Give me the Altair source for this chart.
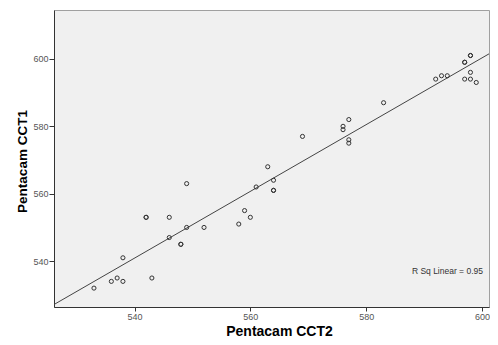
import altair as alt
import pandas as pd

# Pentacam CCT2 (x) and Pentacam CCT1 (y)
cct2 = [563, 549, 564, 561, 564, 564, 542, 542, 546, 559, 560, 558, 549, 552,
        546, 548, 548, 538, 543, 537, 536, 538, 533,
        598, 598, 597, 597, 598, 597, 598, 599, 592, 593, 594, 583,
        577, 576, 576, 577, 577, 569]
cct1 = [568, 563, 564, 562, 561, 561, 553, 553, 553, 555, 553, 551, 550, 550,
        547, 545, 545, 541, 535, 535, 534, 534, 532,
        601, 601, 599, 599, 596, 594, 594, 593, 594, 595, 595, 587,
        582, 580, 579, 576, 575, 577]

x_ticks = [540, 560, 580, 600]
y_ticks = [540, 560, 580, 600]
x_domain = [526.1, 601.2]
y_domain = [526.4, 614.5]
r2_label = ["R Sq Linear = 0.95"]

df = pd.DataFrame({"cct2": cct2, "cct1": cct1})

W, H = 435, 297
FONT = "Liberation Sans"

xs = alt.Scale(domain=x_domain, nice=False, zero=False)
ys = alt.Scale(domain=y_domain, nice=False, zero=False)

x_axis = alt.Axis(values=x_ticks, title="Pentacam CCT2", grid=False,
                  titleX=225, titleY=28, titleAlign="center",
                  titleBaseline="alphabetic", titleFontSize=14,
                  tickSize=4)
y_axis = alt.Axis(values=y_ticks, title="Pentacam CCT1", grid=False,
                  titleX=-32, titleY=151, titleAngle=-90, titleAlign="center",
                  titleBaseline="middle", titleFontSize=13.5)

base = alt.Chart(df)

points = base.mark_point(shape="circle", size=17, filled=False,
                         stroke="#333333", strokeWidth=1, opacity=1).encode(
    x=alt.X("cct2:Q", scale=xs, axis=x_axis),
    y=alt.Y("cct1:Q", scale=ys, axis=y_axis),
)

line = base.transform_regression(
    "cct2", "cct1", extent=x_domain
).mark_line(color="#444444", strokeWidth=1, clip=True).encode(
    x=alt.X("cct2:Q", scale=xs),
    y=alt.Y("cct1:Q", scale=ys),
)

label = alt.Chart(pd.DataFrame({"t": r2_label})).mark_text(
    align="right", baseline="alphabetic", fontSize=8.5, font=FONT,
    color="#333333"
).encode(
    text="t:N",
    x=alt.value(429),
    y=alt.value(264),
)

chart = alt.layer(line, points, label).properties(
    width=W, height=H,
    autosize=alt.AutoSizeParams(type="none"),
    padding={"left": 46, "top": 2, "right": 1, "bottom": 30},
    background="white",
).configure_view(
    stroke="#a0a0a0", strokeWidth=1, fill="#f0f0f0"
).configure_axis(
    domainColor="#333333", domainWidth=1, tickColor="#333333", tickSize=5,
    labelColor="#555555", labelFontSize=9, labelFont=FONT, labelPadding=1,
    titleFont=FONT, titleFontWeight="bold", titleColor="#000000",
)

chart.save("out.html", embed_options={"renderer": "svg", "actions": False})
